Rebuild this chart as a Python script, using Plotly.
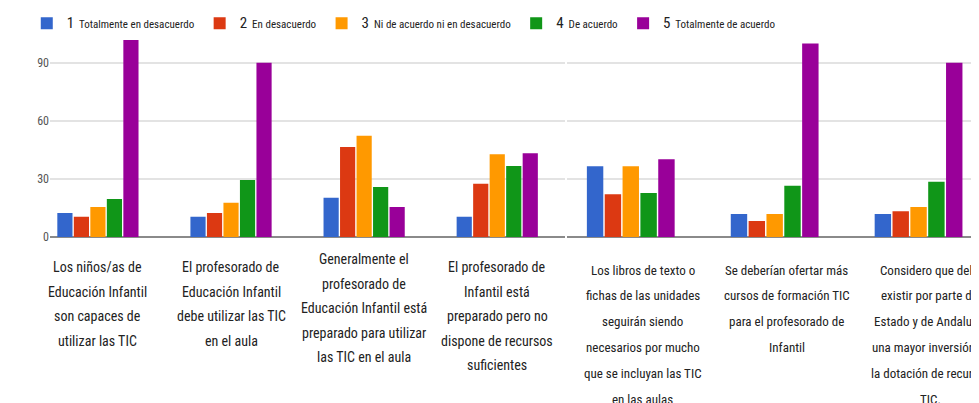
import plotly.graph_objects as go

series_names = ["1", "2", "3", "4", "5"]
series_labels = ["Totalmente en desacuerdo", "En desacuerdo", "Ni de acuerdo ni en desacuerdo",
                 "De acuerdo", "Totalmente de acuerdo"]
colors = ["#3366cc", "#dc3912", "#ff9900", "#109618", "#990099"]

categories = ["c1", "c2", "c3", "c4", "c5", "c6", "c7"]
label_lines = [
    ["Los niños/as de", "Educación Infantil", "son capaces de", "utilizar las TIC"],
    ["El profesorado de", "Educación Infantil", "debe utilizar las TIC", "en el aula"],
    ["Generalmente el", "profesorado de", "Educación Infantil está", "preparado para utilizar", "las TIC en el aula"],
    ["El profesorado de", "Infantil está", "preparado pero no", "dispone de recursos", "suficientes"],
    ["Los libros de texto o", "fichas de las unidades", "seguirán siendo", "necesarios por mucho",
     "que se incluyan las TIC", "en las aulas"],
    ["Se deberían ofertar más", "cursos de formación TIC", "para el profesorado de", "Infantil"],
    ["Considero que debe", "existir por parte del", "Estado y de Andalucía", "una mayor inversión en",
     "la dotación de recursos", "TIC."],
]

s1 = [12.4, 10.5, 20.3, 10.5, 36.6, 11.9, 11.9]
s2 = [10.5, 12.4, 46.6, 27.6, 22.1, 8.3, 13.3]
s3 = [15.5, 17.7, 52.4, 42.8, 36.6, 11.9, 15.5]
s4 = [19.7, 29.5, 25.9, 36.7, 22.8, 26.5, 28.6]
s5 = [102.0, 90.2, 15.5, 43.3, 40.2, 100.2, 90.2]
series_values = [s1, s2, s3, s4, s5]

y_ticks = [0, 30, 60, 90]

left_n = 4  # first screenshot panel holds the first four questions

FONT = "Liberation Sans Narrow, Roboto Condensed, Liberation Sans, sans-serif"

fig = go.Figure()
for i in range(5):
    name = f"<span style='font-size:15px'>{series_names[i]}</span>  {series_labels[i]}"
    fig.add_trace(go.Bar(x=categories[:left_n], y=series_values[i][:left_n], name=name,
                         marker=dict(color=colors[i], line=dict(width=0)),
                         xaxis="x", yaxis="y", legendgroup=str(i)))
    fig.add_trace(go.Bar(x=categories[left_n:], y=series_values[i][left_n:], name=name,
                         marker=dict(color=colors[i], line=dict(width=0)),
                         xaxis="x2", yaxis="y", legendgroup=str(i), showlegend=False))

for ci, cat in enumerate(categories):
    left = ci < left_n
    xref = "x" if left else "x2"
    size = 14 if left else 13
    first = 30 if left else 33
    if ci == 2:
        first = 22
    step = 24.5 if left else 25.8
    xs = 0 if left else 12
    for li, line in enumerate(label_lines[ci]):
        fig.add_annotation(x=cat, xref=xref, y=0, yref="paper", text=line, showarrow=False,
                           yanchor="middle", yshift=-(first + step * li), xshift=xs,
                           font=dict(family=FONT, size=size, color="#222222"))

grid = "#e3e3e3"
fig.update_layout(
    width=971, height=395,
    margin=dict(l=42, r=0, t=32, b=166, autoexpand=False),
    paper_bgcolor="white", plot_bgcolor="white",
    barmode="group", bargap=0.38, bargroupgap=0.08,
    font=dict(family=FONT, size=12, color="#444444"),
    legend=dict(orientation="h", x=-0.025, xanchor="left", y=1.085, yanchor="middle",
                font=dict(family=FONT, size=11, color="#222222"),
                itemwidth=30, tracegroupgap=0, bgcolor="rgba(0,0,0,0)"),
    xaxis=dict(domain=[0, 0.5545], range=[-0.36, 3.51], showticklabels=False,
               showgrid=False, zeroline=False, showline=False, fixedrange=True),
    xaxis2=dict(domain=[0.557, 1], range=[-0.44, 2.42], showticklabels=False,
                showgrid=False, zeroline=False, showline=False, fixedrange=True),
    yaxis=dict(range=[0, 102], tickvals=y_ticks, showgrid=True, gridcolor=grid, gridwidth=1.5,
               zeroline=True, zerolinecolor="#8a8a8a", zerolinewidth=2,
               tickfont=dict(family=FONT, size=12, color="#555555"), ticks="", ticklen=0),
    showlegend=True,
)

fig.write_html("out.html")
